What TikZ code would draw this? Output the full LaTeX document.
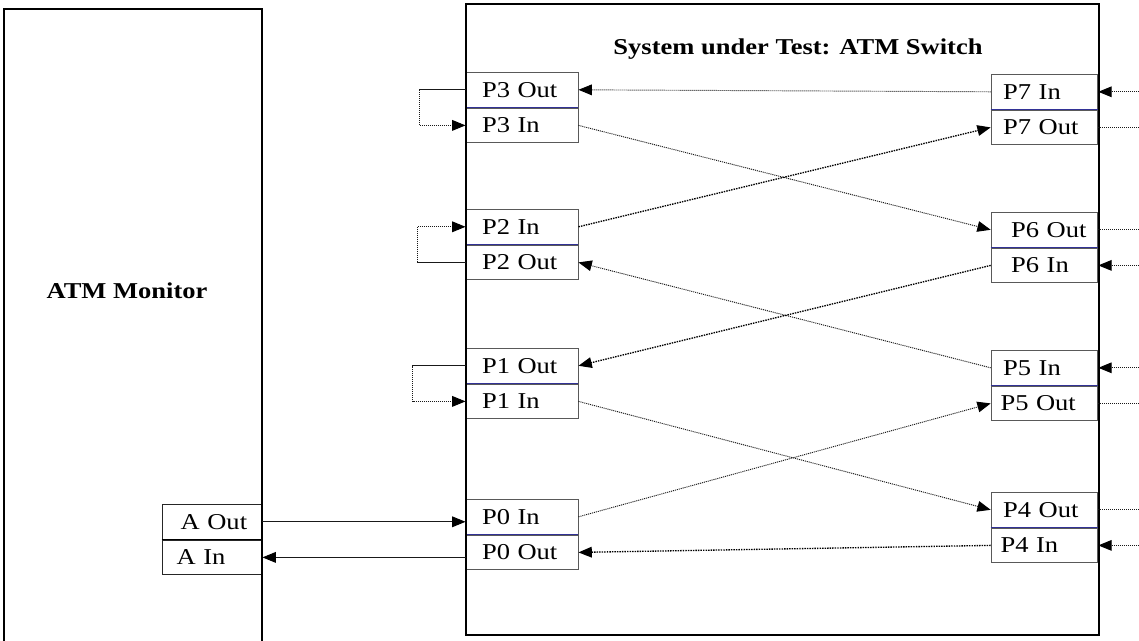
\documentclass[tikz,border=0pt]{standalone}
\usepackage{fontspec}
\setmainfont[FakeStretch=1.17]{Liberation Serif}
\usetikzlibrary{arrows.meta}
\definecolor{portrule}{RGB}{50,50,150}
\tikzset{
  port/.style={draw=black!65, line width=0.7pt, minimum height=26pt, inner xsep=0pt,
    inner ysep=0pt, text width=84pt, align=left, font=\fontsize{17}{20}\selectfont,
    execute at begin node={\hspace*{#1}}},
  port/.default=12pt,
  rport/.style={port=#1, text width=80pt},
  rport/.default=9pt,
  aport/.style={port=#1, draw=black!85, text width=75pt},
  aport/.default=14pt,
  link/.style={line width=0.7pt, black!90, dash pattern=on 0.8pt off 0.7pt,
    -{Triangle[length=10pt,width=8pt,color=black]}},
  darklink/.style={link, line width=1pt, black, dash pattern=on 1.1pt off 0.8pt},
  plain/.style={line width=0.7pt, black!90, dash pattern=on 0.8pt off 0.7pt},
  divider/.style={portrule, line width=0.7pt},
  frame/.style={line width=1.1pt},
  title/.style={font=\fontsize{17}{20}\selectfont\bfseries}
}
\begin{document}
\begin{tikzpicture}[x=0.75pt,y=-0.75pt]
    \useasboundingbox (0,0) rectangle (1139,641);

    % switch ports, left column
    \node[port, anchor=north] (p3out) at (522, 72) {P3 Out};
    \node[port, anchor=north] (p3in)  at (p3out.south) {P3 In};
    \node[port, anchor=north] (p2in)  at (522,209) {P2 In};
    \node[port, anchor=north] (p2out) at (p2in.south) {P2 Out};
    \node[port, anchor=north] (p1out) at (522,348) {P1 Out};
    \node[port, anchor=north] (p1in)  at (p1out.south) {P1 In};
    \node[port, anchor=north] (p0in)  at (522,499) {P0 In};
    \node[port, anchor=north] (p0out) at (p0in.south) {P0 Out};

    % switch ports, right column
    \node[rport, anchor=north] (p7in)  at (1044.5, 74) {P7 In};
    \node[rport, anchor=north] (p7out) at (p7in.south) {P7 Out};
    \node[rport=15pt, anchor=north] (p6out) at (1044.5,212) {P6 Out};
    \node[rport=15pt, anchor=north] (p6in)  at (p6out.south) {P6 In};
    \node[rport, anchor=north] (p5in)  at (1044.5,350) {P5 In};
    \node[rport=7pt, anchor=north] (p5out) at (p5in.south) {P5 Out};
    \node[rport, anchor=north] (p4out) at (1044.5,492) {P4 Out};
    \node[rport=7pt, anchor=north] (p4in)  at (p4out.south) {P4 In};

    % monitor ports
    \node[aport, anchor=north] (aout) at (212,504) {A Out};
    \node[aport=11pt, anchor=north] (ain)  at (aout.south) {A In};

    \foreach \p in {p3out,p2in,p1out,p0in,p7in,p6out,p5in,p4out}
      \draw[divider] (\p.south west) -- (\p.south east);
    \draw[line width=0.7pt] (aout.south west) -- (aout.south east);

    % the two units
    \draw[frame] (4,645) -- (4,9) -- (262,9) -- (262,645);
    \draw[frame] (466,4) rectangle (1099,635);
    \node[title] (monitor) at (127,291) {ATM Monitor};
    \node[title] (switch)  at (798,49) {System under Test: ATM Switch};

    % loop backs
    \draw[link] (p3out.west) -- ++(-46,0) |- (p3in.west);
    \draw[link] (p2out.west) -- ++(-48,0) |- (p2in.west);
    \draw[link] (p1out.west) -- ++(-53,0) |- (p1in.west);

    % monitor to switch
    \draw[link] (aout.east) -- (aout.east -| p0in.west);
    \draw[link] (p0out.west |- ain.east) -- (ain.east);

    % through the switch
    \draw[link] (p7in.west) -- (p3out.east);
    \draw[link] (p3in.east) -- (p6out.west);
    \draw[darklink] (p2in.east) -- (p7out.west);
    \draw[darklink] (p6in.west) -- (p1out.east);
    \draw[link] (p5in.west) -- (p2out.east);
    \draw[link] (p1in.east) -- (p4out.west);
    \draw[link] (p0in.east) -- (p5out.west);
    \draw[darklink] (p4in.west) -- (p0out.east);

    % outside
    \coordinate (rim) at (1139,0);
    \foreach \p in {p7in,p6in,p5in,p4in}
      \draw[link] (\p.east -| rim) -- (\p.east);
    \foreach \p in {p7out,p6out,p5out,p4out}
      \draw[plain] (\p.east) -- (\p.east -| rim);
\end{tikzpicture}
\end{document}
